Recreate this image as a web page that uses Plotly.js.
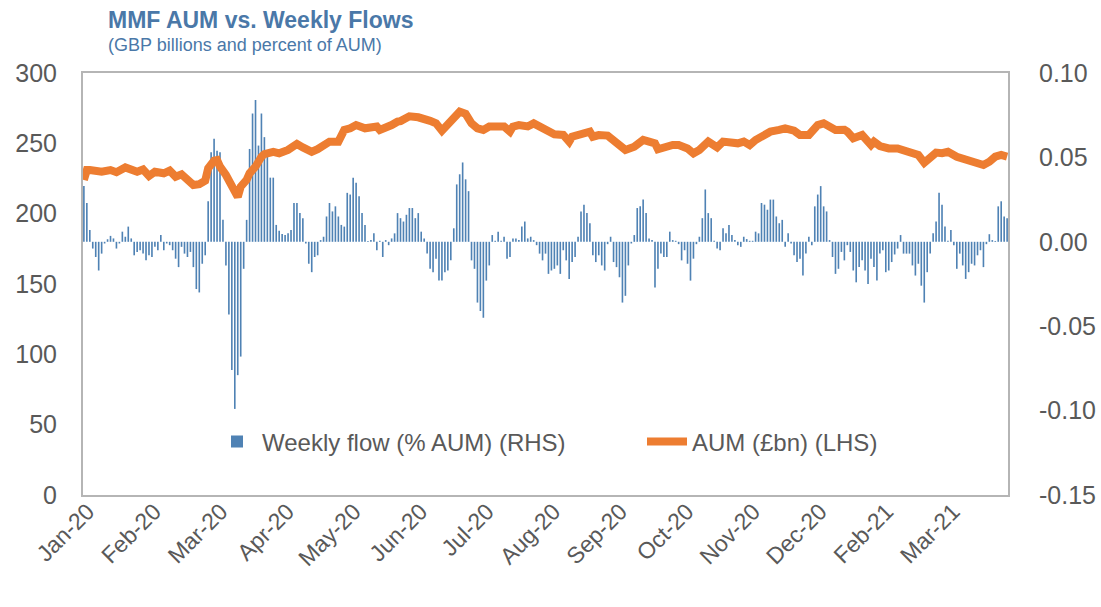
<!DOCTYPE html>
<html><head><meta charset="utf-8">
<script src="https://cdn.plot.ly/plotly-3.0.1.min.js"></script>
<style>html,body{margin:0;padding:0;background:#fff;} #chart{width:1101px;height:607px;}</style>
</head><body><div id="chart"></div>
<script>
const monthLabels = ['Jan-20','Feb-20','Mar-20','Apr-20','May-20','Jun-20','Jul-20','Aug-20','Sep-20','Oct-20','Nov-20','Dec-20','Feb-21','Mar-21'];

const weeklyFlow = [
 0.033,0.023,0.007,-0.004,-0.009,-0.017,-0.007,-0.001,0.0015,0.0035,
 0.002,-0.004,-0.001,0.006,0.003,0.009,0.002,-0.008,-0.006,-0.005,
 -0.007,-0.011,-0.008,-0.009,-0.003,-0.005,0.004,-0.005,-0.001,-0.002,
 -0.005,-0.010,-0.015,-0.003,-0.007,-0.009,-0.006,-0.015,-0.028,-0.030,
 -0.013,-0.008,0.024,0.053,0.061,0.054,0.053,0.013,-0.014,-0.043,
 -0.076,-0.099,-0.079,-0.068,-0.016,0.013,0.055,0.076,0.084,0.057,
 0.076,0.062,0.054,0.038,0.038,0.010,0.0066,0.0046,0.004,0.005,
 0.007,0.023,0.023,0.017,0.014,-0.001,-0.013,-0.018,-0.009,-0.008,
 0.001,0.003,0.015,0.023,0.018,0.021,0.015,0.010,0.009,0.029,
 0.028,0.038,0.035,0.027,0.017,0.010,0.0005,0.001,0.005,-0.005,
 0.0006,-0.009,0.001,-0.002,0.002,0.005,0.017,0.014,0.012,0.016,
 0.020,0.020,0.014,0.017,0.006,0.002,-0.007,-0.016,-0.018,-0.010,
 -0.023,-0.023,-0.018,-0.017,-0.011,0.008,0.034,0.040,0.047,0.037,
 0.030,-0.011,-0.016,-0.036,-0.041,-0.045,-0.023,-0.014,0.004,0.0006,
 0.006,0.0006,0.003,-0.010,-0.009,0.002,0.002,0.001,0.009,0.012,
 0.002,0.003,0.001,-0.002,-0.007,-0.011,-0.007,-0.019,-0.017,-0.016,
 -0.014,-0.019,-0.005,-0.011,-0.022,-0.012,-0.009,0.003,0.018,0.022,
 0.017,0.011,-0.008,-0.012,-0.008,-0.014,-0.017,-0.0014,0.003,-0.012,
 -0.015,-0.021,-0.036,-0.032,-0.014,-0.001,0.004,0.020,0.021,0.025,
 0.017,0.002,0.001,-0.027,-0.016,-0.007,-0.009,-0.009,0.006,0.001,
 0.0006,-0.0014,-0.011,-0.005,-0.013,-0.023,-0.010,-0.0014,0.003,0.014,
 0.031,0.017,0.014,0.0006,-0.004,-0.005,0.008,0.005,0.010,0.004,
 0.001,-0.002,-0.003,0.003,0.0016,0.0006,0.0006,0.006,0.005,0.023,
 0.022,0.019,0.025,0.025,0.015,0.011,0.013,-0.003,0.005,-0.001,
 -0.008,-0.012,-0.010,-0.020,-0.007,0.003,-0.002,0.021,0.028,0.033,
 0.021,0.018,0.001,-0.009,-0.019,-0.016,-0.006,-0.011,-0.002,-0.006,
 -0.017,-0.024,-0.015,-0.011,-0.017,-0.025,-0.010,-0.015,-0.023,-0.007,
 -0.005,-0.018,-0.017,-0.012,-0.0075,-0.004,0.004,-0.007,-0.007,-0.007,
 -0.014,-0.020,-0.013,-0.026,-0.036,-0.018,-0.007,0.005,0.012,0.029,
 0.022,0.009,0.0006,0.007,-0.002,-0.016,-0.007,-0.014,-0.022,-0.018,
 -0.013,-0.014,-0.008,-0.005,-0.015,-0.0014,0.0045,0.001,0.0005,0.021,
 0.024,0.015,0.014
];

const aumDay = [0,1,2,6,9,11,14,16,18,20,22,24,27,29,31,33,35,37,39,41,
 42,44,45,46,48,50,51,52,53,55,56,58,60,61,64,66,69,72,74,77,
 79,81,83,86,88,90,92,95,97,99,100,102,104,106,107,110,113,117,119,121,
 123,125,127,129,131,133,135,137,140,142,144,145,147,150,152,154,156,159,162,164,
 165,168,171,172,174,177,180,183,186,189,191,193,194,196,199,201,204,206,208,211,
 214,216,218,221,223,225,227,230,232,235,237,240,242,245,246,248,250,252,254,257,
 258,260,263,266,267,269,272,275,277,280,282,284,286,288,290,292,295,297,299,302,
 304,306,308,310,312];

const aumValue = [224,231,231,229.8,231,229.5,232.9,231,229.8,231.4,
 226.8,229.8,228.7,230.6,226.3,228,225,220.4,221,223.5,
 232.2,237.7,238.1,233.4,227.5,219.2,213.3,212,219.2,224,
 228.7,233.4,240.5,242.4,244,242.9,245.3,249.5,247.1,244,
 245.8,248.1,251.2,251.2,259.5,260.7,263,260.7,261.9,261.9,
 259.5,260.7,263,265.4,265.8,269.2,268.5,266,264.2,259,
 263,268.9,272.5,271,264.2,260.7,259.5,261.9,261.9,262,
 258.3,261.9,263,262,264.2,261.9,259.5,256.4,256,251.2,
 254.7,257.1,258.3,254.7,255.9,255.5,251.2,245.3,247.6,252.4,
 251.2,250,245.8,247.6,248.8,248.8,246.4,242.9,245.3,251.2,
 247.1,251.2,250.5,250,251.2,248.8,252.4,255.9,258.3,259.5,
 260.7,259,255.9,255.9,258.3,263,264.2,261.9,259.5,259.7,
 258.3,253.6,255.9,248.8,251.2,248.1,246.4,246.4,245.3,244,
 241.7,236.2,240.5,243.4,243,244,240.5,239.3,236.9,235.8,
 234.6,236.9,240.5,241.7,240.5];

const flowTicks = [-0.15,-0.10,-0.05,0.00,0.05,0.10];
const aumTicks = [0,50,100,150,200,250,300];

const dayIndex = weeklyFlow.map((_, i) => i);
const labelStart = 1.3, labelStep = 22.5;
const tickVals = monthLabels.map((_, k) => labelStart + k * labelStep);

const FONT = 'Liberation Sans, Arial, sans-serif';
const GREY = '#595959';
const FRAME = '#b5b5b5';
const BLUE_TXT = '#4a78a8';

const traces = [
 {type:'bar', name:'Weekly flow (% AUM) (RHS)', x:dayIndex, y:weeklyFlow, yaxis:'y',
  legend:'legend', marker:{color:'#4f82b4', line:{width:0}}, hoverinfo:'skip'},
 {type:'scatter', mode:'lines', name:'AUM (£bn) (LHS)', x:aumDay, y:aumValue, yaxis:'y2',
  legend:'legend2', line:{color:'#ed7d31', width:8}, hoverinfo:'skip'}
];

const legendBase = {orientation:'h', xanchor:'left', y:(495-442)/422, yanchor:'middle',
   font:{family:FONT, size:24, color:GREY}, bgcolor:'rgba(0,0,0,0)', itemwidth:40};

const layout = {
 width:1101, height:607,
 margin:{l:83, r:93, t:73, b:112},
 paper_bgcolor:'#ffffff', plot_bgcolor:'#ffffff',
 bargap:0.45,
 showlegend:true,
 legend:Object.assign({}, legendBase, {x:(212-83)/925}),
 legend2:Object.assign({}, legendBase, {x:(642-83)/925}),
 title:{text:'<b>MMF AUM vs. Weekly Flows</b>', xref:'container', yref:'container',
   x:108/1101, xanchor:'left', y:1-20/607, yanchor:'middle',
   font:{family:FONT, size:23, color:BLUE_TXT}},
 annotations:[{text:'(GBP billions and percent of AUM)', xref:'paper', yref:'paper',
   x:(106-83)/925, xanchor:'left', y:(495-45)/422, yanchor:'middle', showarrow:false,
   font:{family:FONT, size:18, color:BLUE_TXT}}],
 xaxis:{range:[-0.3, 312.3], tickmode:'array', tickvals:tickVals, ticktext:monthLabels,
   tickangle:-45, showline:true, mirror:true, linecolor:FRAME, linewidth:2,
   ticks:'', showgrid:false, zeroline:false, fixedrange:true, ticklabelstandoff:-8,
   tickfont:{family:FONT, size:23, color:GREY}},
 yaxis:{side:'right', range:[-0.15, 0.10], tickmode:'array', tickvals:flowTicks,
   ticktext:flowTicks.map(v => v.toFixed(2)),
   showline:true, linecolor:FRAME, linewidth:2, showgrid:false, zeroline:false, ticks:'',
   ticklabelstandoff:24, fixedrange:true,
   tickfont:{family:FONT, size:25, color:GREY}},
 yaxis2:{overlaying:'y', side:'left', range:[0, 300], tickmode:'array', tickvals:aumTicks,
   showline:true, linecolor:FRAME, linewidth:2, showgrid:false, zeroline:false, ticks:'',
   ticklabelstandoff:19, fixedrange:true,
   tickfont:{family:FONT, size:25, color:GREY}}
};

Plotly.newPlot('chart', traces, layout, {displayModeBar:false, staticPlot:true});
</script>
</body></html>
